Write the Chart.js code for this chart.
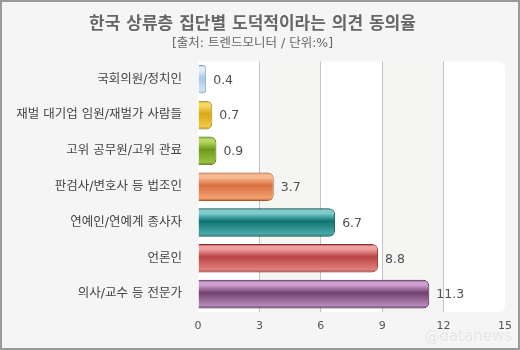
<!DOCTYPE html>
<html>
<head>
<meta charset="utf-8">
<script src="https://cdn.jsdelivr.net/npm/chart.js@4"></script>
<style>
  html, body { margin: 0; padding: 0; background: #f5f5f5; }
  #wrap { width: 520px; height: 350px; }
</style>
</head>
<body>
<div id="wrap"><canvas id="chart" width="520" height="350"></canvas></div>
<script>
// Chart data
const categories = [
    '국회의원/정치인',
    '재벌 대기업 임원/재벌가 사람들',
    '고위 공무원/고위 관료',
    '판검사/변호사 등 법조인',
    '연예인/연예계 종사자',
    '언론인',
    '의사/교수 등 전문가'
];
const values = [0.4, 0.7, 0.9, 3.7, 6.7, 8.8, 11.3];
const xTicks = [0, 3, 6, 9, 12, 15];

// Gradient stops per bar: [edge, highlight, middle, bottom]
const barPalette = [
    ['#7fa6cc', '#e4eef8', '#a9c8e6', '#cfe1f2'],
    ['#a88410', '#f4d860', '#d8a818', '#f0c848'],
    ['#4e7010', '#b4d860', '#6e9a1c', '#98c040'],
    ['#b05828', '#f8b890', '#d87040', '#f4a070'],
    ['#0a4e4e', '#80cccc', '#0e7472', '#48aaa8'],
    ['#8c2c2c', '#f0a0a0', '#b84444', '#e48080'],
    ['#4e2450', '#d0a0d0', '#70406e', '#b68ab8']
];

const fontFamily = "'DejaVu Sans', 'Noto Sans CJK KR', sans-serif";

function barGradient(context) {
    const chart = context.chart;
    const i = context.dataIndex;
    const p = barPalette[i % barPalette.length];
    if (!chart.chartArea || !chart.scales.y) return p[2];
    const yScale = chart.scales.y;
    const center = yScale.getPixelForValue(i);
    const half = (yScale.height / categories.length) * 0.8 / 2;
    const g = chart.ctx.createLinearGradient(0, center - half, 0, center + half);
    g.addColorStop(0, p[0]);
    g.addColorStop(0.08, p[1]);
    g.addColorStop(0.18, p[1]);
    g.addColorStop(0.45, p[2]);
    g.addColorStop(0.9, p[3]);
    g.addColorStop(1, p[0]);
    return g;
}

// Background, border, striped plot area
const backdrop = {
    id: 'backdrop',
    beforeDraw(chart) {
        const { ctx, chartArea: a, scales: { x } } = chart;
        ctx.save();
        ctx.fillStyle = '#f5f5f5';
        ctx.fillRect(0, 0, chart.width, chart.height);
        ctx.strokeStyle = '#9a9a9a';
        ctx.lineWidth = 2;
        ctx.strokeRect(1, 1, chart.width - 2, chart.height - 2);

        ctx.fillStyle = '#ffffff';
        ctx.beginPath();
        ctx.roundRect(a.left, a.top, a.right - a.left, a.bottom - a.top, [0, 6, 6, 0]);
        ctx.fill();

        ctx.fillStyle = '#f5f5f3';
        for (let k = 1; k < xTicks.length - 1; k += 2) {
            const x0 = x.getPixelForValue(xTicks[k]);
            const x1 = x.getPixelForValue(xTicks[k + 1]);
            ctx.fillRect(x0, a.top, x1 - x0, a.bottom - a.top);
        }
        ctx.restore();
    },
    afterDraw(chart) {
        const ctx = chart.ctx;
        ctx.save();
        ctx.font = '15px ' + fontFamily;
        ctx.fillStyle = 'rgba(225, 225, 225, 0.7)';
        ctx.textAlign = 'right';
        ctx.textBaseline = 'middle';
        ctx.fillText('@datanews', 512, 337);
        ctx.restore();
    }
};

// Value labels at the end of each bar
const valueLabels = {
    id: 'valueLabels',
    afterDatasetsDraw(chart) {
        const ctx = chart.ctx;
        const meta = chart.getDatasetMeta(0);
        ctx.save();
        ctx.font = '12.5px ' + fontFamily;
        ctx.fillStyle = '#505050';
        ctx.textAlign = 'left';
        ctx.textBaseline = 'middle';
        meta.data.forEach((bar, i) => {
            ctx.fillText(values[i].toFixed(1), bar.x + 7, bar.y + 1);
        });
        ctx.restore();
    }
};

const ctx = document.getElementById('chart').getContext('2d');
new Chart(ctx, {
    type: 'bar',
    data: {
        labels: categories,
        datasets: [{
            data: values,
            backgroundColor: barGradient,
            borderColor: barPalette.map(p => p[0]),
            borderWidth: 1,
            borderRadius: 6,
            borderSkipped: 'start',
            barPercentage: 0.8,
            categoryPercentage: 1
        }]
    },
    options: {
        indexAxis: 'y',
        responsive: false,
        animation: false,
        layout: { padding: { left: 0, right: 15, top: 0, bottom: 0 } },
        plugins: {
            legend: { display: false },
            tooltip: { enabled: false },
            title: {
                display: true,
                text: '한국 상류층 집단별 도덕적이라는 의견 동의율',
                color: '#666',
                font: { family: fontFamily, size: 17, weight: 'bold' },
                padding: { top: 14, bottom: 2 }
            },
            subtitle: {
                display: true,
                text: '[출처: 트렌드모니터 / 단위:%]',
                color: '#666',
                font: { family: fontFamily, size: 12.5 },
                padding: { top: 0, bottom: 10 }
            }
        },
        scales: {
            x: {
                min: 0,
                max: 15,
                afterBuildTicks(scale) {
                    scale.ticks = xTicks.map(v => ({ value: v }));
                },
                afterFit(scale) { scale.height = 38; },
                grid: {
                    color: c => (c.tick && (c.tick.value === 0 || c.tick.value === 15)) ? 'rgba(0,0,0,0)' : '#c4c4c4',
                    drawTicks: false
                },
                border: { display: false },
                ticks: {
                    color: '#555',
                    padding: 8,
                    font: { family: fontFamily, size: 11 }
                }
            },
            y: {
                afterFit(scale) { scale.width = 198; },
                grid: { display: false },
                border: { display: false },
                ticks: {
                    color: '#444',
                    padding: 8,
                    font: { family: fontFamily, size: 12.5 }
                }
            }
        }
    },
    plugins: [backdrop, valueLabels]
});
</script>
</body>
</html>
